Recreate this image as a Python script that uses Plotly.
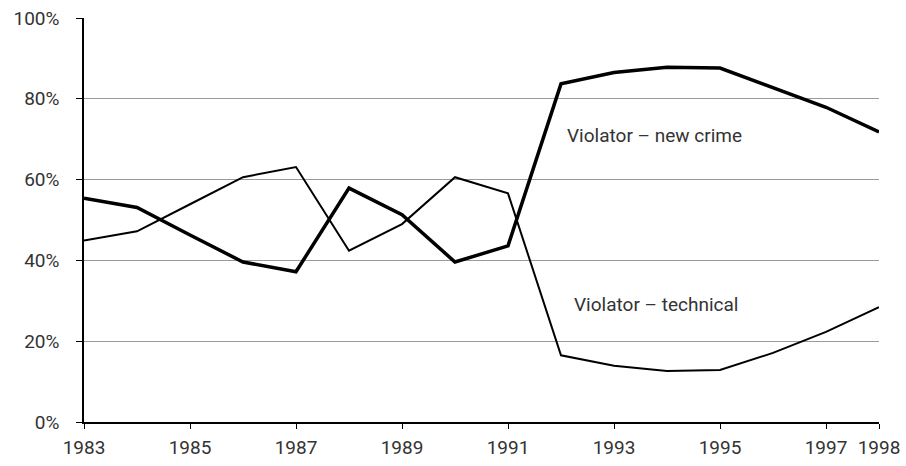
import plotly.graph_objects as go

years = list(range(1983, 1999))
new_crime = [55.4, 53.1, 46.3, 39.6, 37.2, 57.9, 51.3, 39.6, 43.6, 83.7, 86.5, 87.8, 87.6, 82.8, 77.9, 71.8]
technical = [44.9, 47.2, 53.9, 60.6, 63.1, 42.4, 49.0, 60.6, 56.6, 16.5, 13.9, 12.6, 12.9, 17.1, 22.3, 28.4]
x_ticks = [1983, 1985, 1987, 1989, 1991, 1993, 1995, 1997, 1998]
y_ticks = [0, 20, 40, 60, 80, 100]
y_labels = [f"{v}%" for v in y_ticks]

font_family = "Roboto, Inter, sans-serif"
text_color = "#333333"

fig = go.Figure()
fig.add_trace(go.Scatter(x=years, y=technical, mode="lines",
                         line=dict(color="black", width=2), name="Violator – technical",
                         showlegend=False))
fig.add_trace(go.Scatter(x=years, y=new_crime, mode="lines",
                         line=dict(color="black", width=3.5), name="Violator – new crime",
                         showlegend=False))

fig.add_annotation(x=1992.08, y=70.8, text="Violator – new crime", showarrow=False,
                   xanchor="left", yanchor="middle",
                   font=dict(family=font_family, size=19, color=text_color))
fig.add_annotation(x=1992.2, y=29.0, text="Violator – technical", showarrow=False,
                   xanchor="left", yanchor="middle",
                   font=dict(family=font_family, size=19, color=text_color))

fig.update_layout(
    width=906, height=466,
    margin=dict(l=84, r=27, t=18, b=44),
    plot_bgcolor="white", paper_bgcolor="white",
    font=dict(family=font_family, size=19, color=text_color),
    xaxis=dict(range=[1983, 1998], tickvals=x_ticks, ticktext=[str(v) for v in x_ticks],
               showgrid=False, zeroline=False, showline=True, linecolor="black", linewidth=1.5,
               ticks="outside", ticklen=5, tickcolor="black", tickwidth=1,
               ticklabelstandoff=2, automargin=False,
               tickfont=dict(size=19, color=text_color)),
    yaxis=dict(range=[0, 100], tickvals=y_ticks, ticktext=y_labels,
               showgrid=True, gridcolor="#9a9a9a", gridwidth=1, zeroline=False,
               showline=True, linecolor="black", linewidth=1.5,
               ticks="outside", ticklen=6, tickcolor="black", tickwidth=1,
               ticklabelstandoff=13, automargin=False,
               tickfont=dict(size=19, color=text_color)),
)

fig.write_html("out.html", config={"displayModeBar": False})

# remove the browser's default 8px body margin so the figure fills the window exactly
with open("out.html", "r", encoding="utf-8") as f:
    html = f.read()
html = html.replace("<head>", "<head><style>html,body{margin:0;padding:0;overflow:hidden;}</style>", 1)
with open("out.html", "w", encoding="utf-8") as f:
    f.write(html)
